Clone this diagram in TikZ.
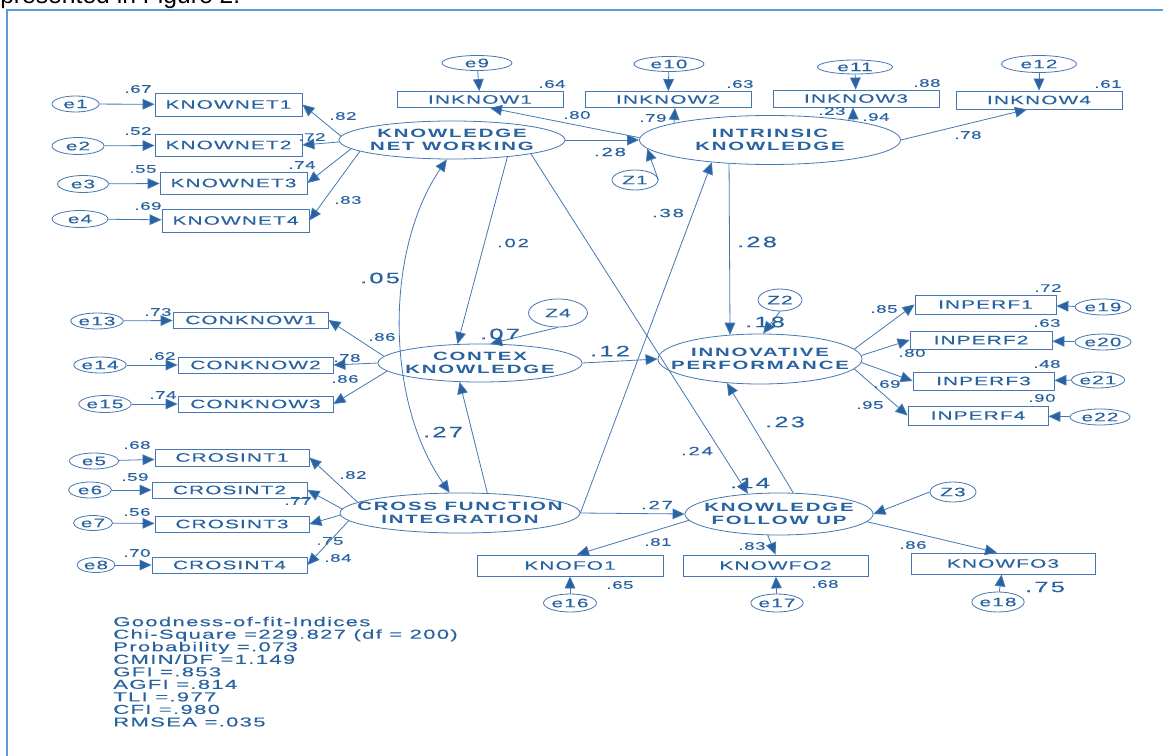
\documentclass[tikz,border=0pt]{standalone}
\usepackage{fontspec}
\setmainfont{Liberation Sans}
\newfontfamily\amosbox[FakeStretch=1.7,LetterSpace=9,FakeBold=0.15]{Liberation Sans}
\newfontfamily\amosbold[FakeStretch=1.7,LetterSpace=15]{Liberation Sans}
\newfontfamily\amosnum[FakeStretch=1.7,LetterSpace=5,FakeBold=0.15]{Liberation Sans}
\newfontfamily\amosmid[FakeStretch=1.7,LetterSpace=15,FakeBold=0.3]{Liberation Sans}
\newfontfamily\amosgof[FakeStretch=1.7,LetterSpace=10,FakeBold=0.15]{Liberation Sans}
\usetikzlibrary{arrows.meta,shapes.geometric,calc}
\definecolor{tc}{RGB}{40,98,160}
\definecolor{lc}{RGB}{68,120,180}
\definecolor{framec}{RGB}{91,155,213}
\newcommand\amosboxfont{\amosbox\fontsize{9.2}{10}\selectfont}
\newcommand\amoslatfont{\amosbold\bfseries\fontsize{9}{9.75}\selectfont}
\newcommand\amossmall{\amosnum\fontsize{8.25}{9}\selectfont}
\newcommand\amosmedium{\amosmid\fontsize{9}{10}\selectfont}
\newcommand\amoslarge{\amosmid\fontsize{11.25}{12}\selectfont}
\newcommand\amosgoffont{\amosgof\fontsize{9.75}{9.4}\selectfont}
\tikzset{
  bx/.style 2 args={draw=lc, line width=0.6pt, text=tc, font=\amosboxfont,
    minimum width=#1*0.75pt, minimum height=#2*0.75pt, inner sep=0pt},
  el/.style 2 args={ellipse, draw=lc, line width=0.6pt, text=tc, font=\amosboxfont,
    minimum width=#1*0.75pt, minimum height=#2*0.75pt, inner sep=0pt},
  lat/.style 2 args={ellipse, draw=lc, line width=0.6pt, text=tc, font=\amoslatfont,
    align=center, minimum width=#1*0.75pt, minimum height=#2*0.75pt, inner sep=0pt},
  arr/.style={draw=lc, line width=0.6pt, -{Triangle[length=9pt,width=8pt,fill=tc]}},
  darr/.style={draw=lc, line width=0.6pt, {Triangle[length=9pt,width=8pt,fill=tc]}-{Triangle[length=9pt,width=8pt,fill=tc]}},
  sl/.style={text=tc, font=\amossmall, inner sep=0pt},
  ml/.style={text=tc, font=\amosmedium, inner sep=0pt},
  ll/.style={text=tc, font=\amoslarge, inner sep=0pt},
}
\begin{document}
\begin{tikzpicture}[x=0.75pt,y=-0.75pt]
\useasboundingbox (0,0) rectangle (1163,756);
\clip (0,0) rectangle (1163,756);
\fill[white] (0,0) rectangle (1163,756);
\node[anchor=base west, inner sep=0pt, font=\fontsize{18.5}{20}\selectfont, text=black] (toptext) at (0,4) {presented in Figure 2.};
\draw[framec, line width=1.1pt] (7,10) rectangle (1190,790);

% observed boxes
\node[bx={147}{23}] (kn1) at (228.5,104.5) {KNOWNET1};
\node[bx={147}{22}] (kn2) at (228.5,145) {KNOWNET2};
\node[bx={147}{22}] (kn3) at (233.5,183) {KNOWNET3};
\node[bx={147}{23}] (kn4) at (235.5,220.5) {KNOWNET4};
\node[bx={166}{16}] (in1) at (480,99.5) {INKNOW1};
\node[bx={166}{16}] (in2) at (668,99.5) {INKNOW2};
\node[bx={166}{17}] (in3) at (856,98.5) {INKNOW3};
\node[bx={166}{18}] (in4) at (1039,100) {INKNOW4};
\node[bx={155}{16}] (ck1) at (250.5,320) {CONKNOW1};
\node[bx={155}{16}] (ck2) at (255.5,365) {CONKNOW2};
\node[bx={155}{16}] (ck3) at (255.5,404) {CONKNOW3};
\node[bx={141}{19}] (ip1) at (985.5,304.5) {INPERF1};
\node[bx={142}{18}] (ip2) at (981,340) {INPERF2};
\node[bx={141}{18}] (ip3) at (983.5,381) {INPERF3};
\node[bx={140}{19}] (ip4) at (978,415.5) {INPERF4};
\node[bx={154}{17}] (cs1) at (232,457.5) {CROSINT1};
\node[bx={155}{16}] (cs2) at (229.5,490) {CROSINT2};
\node[bx={154}{16}] (cs3) at (232,524) {CROSINT3};
\node[bx={155}{16}] (cs4) at (229.5,565) {CROSINT4};
\node[bx={186}{21}] (kf1) at (570,565.5) {KNOFO1};
\node[bx={185}{21}] (kf2) at (775.5,565.5) {KNOWFO2};
\node[bx={184}{21}] (kf3) at (1003,563.5) {KNOWFO3};

% error terms
\node[el={47}{16}] (e1) at (75.5,104) {e1};
\node[el={52}{17}] (e2) at (78,146) {e2};
\node[el={51}{17}] (e3) at (83,184) {e3};
\node[el={56}{17}] (e4) at (80,219) {e4};
\node[el={70}{15}] (e9) at (477,63) {e9};
\node[el={70}{15}] (e10) at (669,64) {e10};
\node[el={75}{14}] (e11) at (855,67) {e11};
\node[el={75}{17}] (e12) at (1039,64) {e12};
\node[el={45}{16}] (e13) at (97,321) {e13};
\node[el={44}{16}] (e14) at (100,365) {e14};
\node[el={46}{17}] (e15) at (105,404) {e15};
\node[el={49}{16}] (e5) at (94,461) {e5};
\node[el={43}{16}] (e6) at (90,490) {e6};
\node[el={39}{15}] (e7) at (93,523) {e7};
\node[el={38}{15}] (e8) at (96,565) {e8};
\node[el={56}{16}] (e19) at (1103,307) {e19};
\node[el={56}{16}] (e20) at (1103,342) {e20};
\node[el={53}{16}] (e21) at (1098,380) {e21};
\node[el={60}{16}] (e22) at (1100,417) {e22};
\node[el={53}{18}] (e16) at (570,603) {e16};
\node[el={48}{18}] (e17) at (777,603) {e17};
\node[el={52}{20}] (e18) at (998,602) {e18};
\node[el={46}{20}] (z1) at (635,180) {Z1};
\node[el={44}{22}] (z2) at (780,300) {Z2};
\node[el={46}{20}] (z3) at (953,492) {Z3};
\node[el={59}{28}] (z4) at (558,313) {Z4};

% latent variables
\node[lat={226}{38}] (knw) at (452,140) {\makebox[0pt]{KNOWLEDGE}\\\makebox[0pt]{NET WORKING}};
\node[lat={261}{49}] (int) at (770,140) {\makebox[0pt]{INTRINSIC}\\\makebox[0pt]{KNOWLEDGE}};
\node[lat={204}{38}] (con) at (480,363) {\makebox[0pt]{CONTEX}\\\makebox[0pt]{KNOWLEDGE}};
\node[lat={204}{50}] (inp) at (760,359) {\makebox[0pt]{INNOVATIVE}\\\makebox[0pt]{PERFORMANCE}};
\node[lat={240}{40}] (cfi) at (460,513) {\makebox[0pt]{CROSS FUNCTION}\\\makebox[0pt]{INTEGRATION}};
\node[lat={188}{42}] (kfu) at (779,514) {\makebox[0pt]{KNOWLEDGE}\\\makebox[0pt]{FOLLOW UP}};

% error arrows
\draw[arr] (e1) -- (kn1);
\draw[arr] (e2) -- (kn2);
\draw[arr] (e3) -- (kn3);
\draw[arr] (e4) -- (kn4);
\draw[arr] (e9) -- (in1);
\draw[arr] (e10) -- (in2);
\draw[arr] (e11) -- (in3);
\draw[arr] (e12) -- (in4);
\draw[arr] (e13) -- (ck1);
\draw[arr] (e14) -- (ck2);
\draw[arr] (e15) -- (ck3);
\draw[arr] (e5) -- (cs1);
\draw[arr] (e6) -- (cs2);
\draw[arr] (e7) -- (cs3);
\draw[arr] (e8) -- (cs4);
\draw[arr] (e19) -- (ip1);
\draw[arr] (e20) -- (ip2);
\draw[arr] (e21) -- (ip3);
\draw[arr] (e22) -- (ip4);
\draw[arr] (e16) -- (kf1);
\draw[arr] (e17) -- (kf2);
\draw[arr] (e18) -- (kf3);

% loadings
\draw[arr] (knw.178) -- (kn1.east);
\draw[arr] (knw.181) -- (kn2.east);
\draw[arr] (knw.185) -- (kn3.east);
\draw[arr] (knw.187) -- (kn4.east);
\draw[arr] (int.179) -- ($(in1.south)+(10,0)$);
\draw[arr] (int.170) -- ($(in2.south)+(7,0)$);
\draw[arr] (int.13) -- ($(in3.south)+(-3,0)$);
\draw[arr] (int.east) -- ($(in4.south)+(-12,0)$);
\draw[arr] (con.176) -- (ck1.east);
\draw[arr] (con.west) -- (ck2.east);
\draw[arr] (con.185) -- (ck3.east);
\draw[arr] (cfi.174) -- (cs1.east);
\draw[arr] (cfi.178) -- (cs2.east);
\draw[arr] (cfi.181) -- (cs3.east);
\draw[arr] (cfi.184) -- (cs4.east);
\draw[arr] (inp.6) -- (ip1.west);
\draw[arr] (inp.2) -- (ip2.west);
\draw[arr] (inp.358) -- (ip3.west);
\draw[arr] (inp.354) -- (ip4.west);
\draw[arr] (kfu.184) -- ($(kf1.north)+(7,0)$);
\draw[arr] (kfu.242) -- (kf2.north);
\draw[arr] (kfu.355) -- ($(kf3.north)+(-6,0)$);

% disturbances
\draw[arr] (z1.east) -- (int.184);
\draw[arr] (z2.south) -- (inp.83);
\draw[arr] (z3.west) -- (kfu.east);
\draw[arr] (z4.south) -- (con.62);

% structural paths
\draw[arr] (knw.east) -- (int.west);
\draw[arr] (knw.343) -- (con.140);
\draw[arr] (knw.350) -- (kfu.147);
\draw[arr] (int.210) -- (inp.141);
\draw[arr] (con.east) -- (inp.west);
\draw[arr] (cfi.36) -- (con.223);
\draw[arr] (cfi.east) -- (int.201);
\draw[arr] (cfi.east) -- (kfu.west);
\draw[arr] (kfu.56) -- (inp.216);
\draw[darr] (knw.255) .. controls (385,250) and (385,400) .. (cfi.117);

% small labels
\node[sl] (lb1) at (138,89) {.67};
\node[sl] (lb2) at (138,131) {.52};
\node[sl] (lb3) at (143,169) {.55};
\node[sl] (lb4) at (148,206) {.69};
\node[sl] (lb5) at (343,116) {.82};
\node[sl] (lb6) at (312,137) {.72};
\node[sl] (lb7) at (302,165) {.74};
\node[sl] (lb8) at (348,200) {.83};
\node[sl] (lb9) at (552,84) {.64};
\node[sl] (lb10) at (740,84) {.63};
\node[sl] (lb11) at (927,83) {.88};
\node[sl] (lb12) at (1108,84) {.61};
\node[sl] (lb13) at (577,115) {.80};
\node[sl] (lb14) at (653,118) {.79};
\node[sl] (lb15) at (832,111) {.23};
\node[sl] (lb16) at (876,117) {.94};
\node[sl] (lb17) at (968,135) {.78};
\node[sl] (lb18) at (158,312) {.73};
\node[sl] (lb19) at (162,356) {.62};
\node[sl] (lb20) at (163,395) {.74};
\node[sl] (lb21) at (382,337) {.86};
\node[sl] (lb22) at (347,358) {.78};
\node[sl] (lb23) at (345,379) {.86};
\node[sl] (lb24) at (884,309) {.85};
\node[sl] (lb25) at (912,353) {.80};
\node[sl] (lb26) at (887,384) {.69};
\node[sl] (lb27) at (870,405) {.95};
\node[sl] (lb28) at (1048,288) {.72};
\node[sl] (lb29) at (1047,323) {.63};
\node[sl] (lb30) at (1047,364) {.48};
\node[sl] (lb31) at (1042,398) {.90};
\node[sl] (lb32) at (137,445) {.68};
\node[sl] (lb33) at (135,477) {.59};
\node[sl] (lb34) at (137,512) {.56};
\node[sl] (lb35) at (137,553) {.70};
\node[sl] (lb36) at (353,475) {.82};
\node[sl] (lb37) at (298,501) {.77};
\node[sl] (lb38) at (330,541) {.75};
\node[sl] (lb39) at (338,558) {.84};
\node[sl] (lb40) at (658,542) {.81};
\node[sl] (lb41) at (620,585) {.65};
\node[sl] (lb42) at (752,546) {.83};
\node[sl] (lb43) at (825,584) {.68};
\node[sl] (lb44) at (913,545) {.86};

% medium labels
\node[ml] (lm1) at (610,152) {.28};
\node[ml] (lm2) at (513,243) {.02};
\node[ml] (lm3) at (668,213) {.38};
\node[ml] (lm4) at (697,451) {.24};
\node[ml] (lm5) at (657,505) {.27};

% large labels
\node[ll] (lg1) at (380,278) {.05};
\node[ll] (lg2) at (757,242) {.28};
\node[ll] (lg3) at (500,334) {.07};
\node[ll] (lg4) at (610,351) {.12};
\node[ll] (lg5) at (765,322) {.18};
\node[ll] (lg6) at (443,432) {.27};
\node[ll] (lg7) at (785,422) {.23};
\node[ll] (lg8) at (750,483) {.14};
\node[ll] (lg9) at (1045,587) {.75};

% fit indices
\node[anchor=north west, inner sep=0pt, text=tc, font=\amosgoffont, align=left] (gof) at (113,616.5)
 {Goodness-of-fit-Indices\\Chi-Square =229.827 (df = 200)\\Probability =.073\\CMIN/DF =1.149\\GFI =.853\\AGFI =.814\\TLI =.977\\CFI =.980\\RMSEA =.035};
\end{tikzpicture}
\end{document}
